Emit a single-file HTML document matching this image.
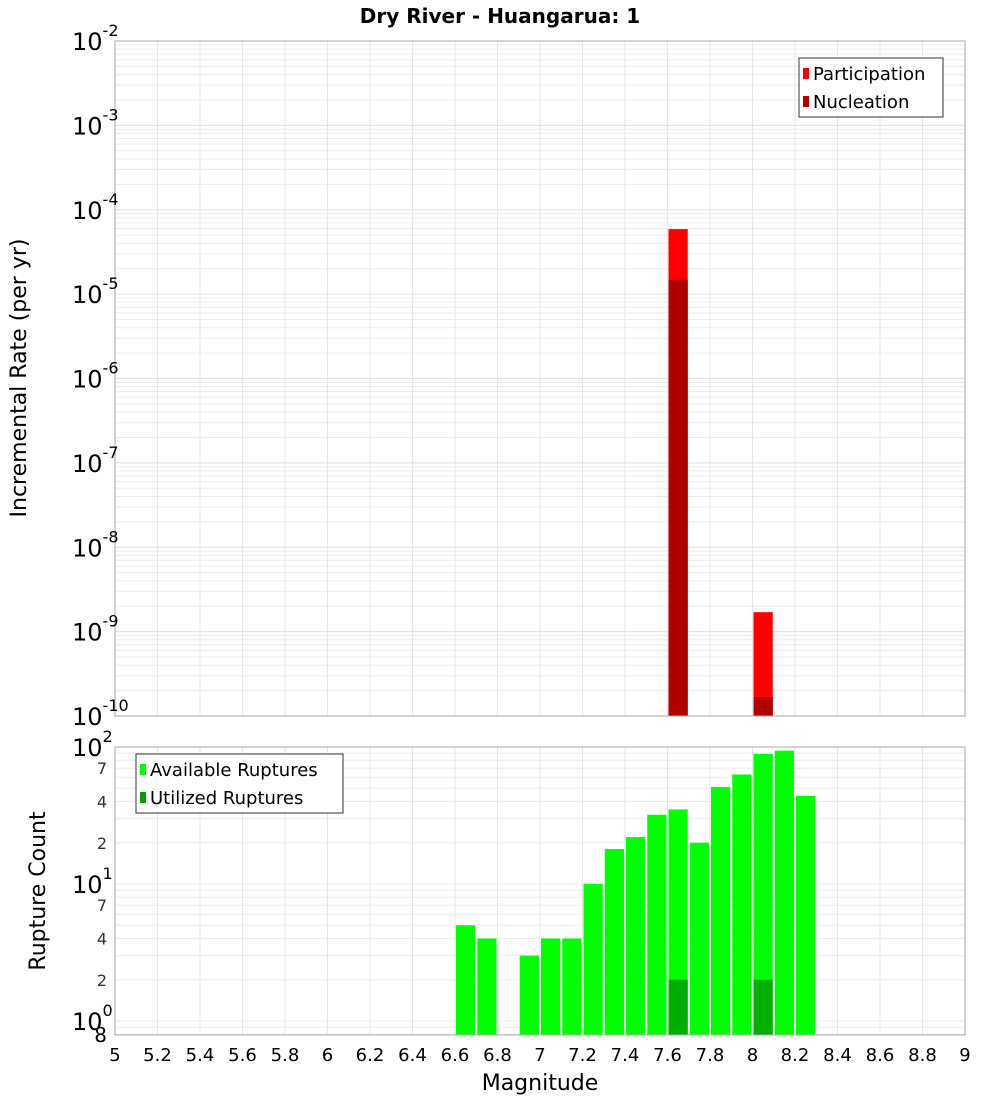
<!DOCTYPE html>
<html><head><meta charset="utf-8"><style>
body{margin:0;background:#fff;width:1000px;height:1100px;overflow:hidden;font-family:"Liberation Sans","DejaVu Sans",sans-serif}
svg text{font-family:"DejaVu Sans","Liberation Sans",sans-serif}
</style></head><body>
<svg id="chart" width="1000" height="1100" xmlns="http://www.w3.org/2000/svg"></svg>
<script>
const mags = [7.65, 8.05];
const participation = [5.9e-5, 1.7e-9];
const nucleation = [1.48e-5, 1.68e-10];
const availMags = [6.65, 6.75, 6.95, 7.05, 7.15, 7.25, 7.35, 7.45, 7.55, 7.65, 7.75, 7.85, 7.95, 8.05, 8.15, 8.25];
const available = [5, 4, 3, 4, 4, 10, 18, 22, 32, 35, 20, 51, 63, 89, 94, 44];
const utilMags = [7.65, 8.05];
const utilized = [2, 2];
const xTicks = [5, 5.2, 5.4, 5.6, 5.8, 6, 6.2, 6.4, 6.6, 6.8, 7, 7.2, 7.4, 7.6, 7.8, 8, 8.2, 8.4, 8.6, 8.8, 9];
const topExps = [-2, -3, -4, -5, -6, -7, -8, -9, -10];
const botMinor = [2, 4, 7, 20, 40, 70];

const NS = "http://www.w3.org/2000/svg";
const svg = document.getElementById('chart');
function el(tag, attrs, parent) {
  const e = document.createElementNS(NS, tag);
  for (const k in attrs) e.setAttribute(k, attrs[k]);
  (parent || svg).appendChild(e);
  return e;
}
const X0 = 115, X1 = 965;
const x = m => X0 + (m - 5) / 4 * (X1 - X0);
const T0 = 41, T1 = 716;
const yTop = v => T0 + (-2 - Math.log10(v)) / 8 * (T1 - T0);
const B0 = 747, B1 = 1035, BDEC = 137;
const yBot = v => B0 + (2 - Math.log10(v)) * BDEC;

// Top plot grid
const gTop = el('g', {});


for (let e = -10; e < -2; e++) for (let k = 1; k < 10; k++) {
  const yy = yTop(k * Math.pow(10, e));
  if (yy < T0 || yy > T1) continue;
  el('line', {x1: X0, x2: X1, y1: yy, y2: yy, stroke: k === 1 ? '#e0e0e0' : '#ececec', 'stroke-width': 1}, gTop);
}
xTicks.forEach(t => el('line', {x1: x(t), x2: x(t), y1: T0, y2: T1, stroke: '#e6e6e6'}, gTop));
// Bottom grid
const gBot = el('g', {});


for (let e = -1; e < 2; e++) for (let k = 1; k < 10; k++) {
  const yy = yBot(k * Math.pow(10, e));
  if (yy < B0 || yy > B1) continue;
  el('line', {x1: X0, x2: X1, y1: yy, y2: yy, stroke: '#ececec'}, gBot);
}
xTicks.forEach(t => el('line', {x1: x(t), x2: x(t), y1: B0, y2: B1, stroke: '#e6e6e6'}, gBot));

// Top bars
mags.forEach((m, i) => {
  const r = el('rect', {x: x(m - 0.05) + 1, width: x(m + 0.05) - x(m - 0.05) - 2, y: yTop(participation[i]), height: T1 - yTop(participation[i]), fill: '#ff0000'});
  
  
  const n = el('rect', {x: x(m - 0.05) + 1, width: x(m + 0.05) - x(m - 0.05) - 2, y: yTop(nucleation[i]), height: T1 - yTop(nucleation[i]), fill: '#b00000'});
  
  
});
// Bottom bars
availMags.forEach((m, i) => {
  const yy = yBot(available[i]);
  const r = el('rect', {x: x(m - 0.05) + 1, width: x(m + 0.05) - x(m - 0.05) - 2, y: yy, height: B1 - yy, fill: '#00ff00'});
  
  
});
utilMags.forEach((m, i) => {
  const yy = yBot(utilized[i]);
  const r = el('rect', {x: x(m - 0.05) + 1, width: x(m + 0.05) - x(m - 0.05) - 2, y: yy, height: B1 - yy, fill: '#00b000'});
  
  
});

// frames
const f1 = el('rect', {x: X0, y: T0, width: X1 - X0, height: T1 - T0, fill: 'none', stroke: '#aaa'});


const f2 = el('rect', {x: X0, y: B0, width: X1 - X0, height: B1 - B0, fill: 'none', stroke: '#aaa'});



// Top y ticks
topExps.forEach(e => {
  const yy = yTop(Math.pow(10, e));
  const t = el('text', {x: 72, y: yy + 9, 'font-size': 24, fill: '#000'});
  
  
  t.textContent = '10';
  const s = el('tspan', {dy: -14, 'font-size': 16}, t);
  s.textContent = String(e);
});
// Bottom y ticks
[[100, '2'], [10, '1'], [1, '0']].forEach(([v, ex]) => {
  const yy = yBot(v);
  const t = el('text', {x: 72, y: yy + 9, 'font-size': 24, fill: '#000'});
  
  
  t.textContent = '10';
  const s = el('tspan', {dy: -14, 'font-size': 16}, t);
  s.textContent = ex;
});
botMinor.forEach(v => {
  const t = el('text', {x: 107, y: yBot(v) + 6, 'font-size': 16, 'text-anchor': 'end', fill: '#333'});
  
  
  t.textContent = String(v).charAt(0);
});
{
  const t = el('text', {x: 107, y: B1 + 7, 'font-size': 20, 'text-anchor': 'end', fill: '#000'});
  
  
  t.textContent = '8';
}
// X ticks
xTicks.forEach(tk => {
  const t = el('text', {x: x(tk), y: 1061, 'font-size': 18, 'text-anchor': 'middle', fill: '#000'});
  
  
  t.textContent = String(tk);
});

// Titles
const title = el('text', {x: 500, y: 23, 'font-size': 20, 'font-weight': 'bold', 'text-anchor': 'middle'});


title.textContent = 'Dry River - Huangarua: 1';
const xt = el('text', {x: 540, y: 1090, 'font-size': 22, 'text-anchor': 'middle'});


xt.textContent = 'Magnitude';
const yt1 = el('text', {x: 0, y: 0, 'font-size': 22, 'text-anchor': 'middle', transform: 'translate(26,378) rotate(-90)'});


yt1.textContent = 'Incremental Rate (per yr)';
const yt2 = el('text', {x: 0, y: 0, 'font-size': 22, 'text-anchor': 'middle', transform: 'translate(45,891) rotate(-90)'});


yt2.textContent = 'Rupture Count';

// Legends
function legend(name, bx, by, w, items) {
  const g = el('g', {});
  
  
  el('rect', {x: bx, y: by, width: w, height: 59, fill: '#fff', stroke: '#333'}, g);
  items.forEach((it, i) => {
    const r = el('rect', {x: bx + 4, y: by + 10 + i * 28, width: 6, height: 11, fill: it[1]}, g);
    
    
    const t = el('text', {x: bx + 14, y: by + 22 + i * 28, 'font-size': 18}, g);
    
    
    t.textContent = it[0];
  });
}
legend('top-legend', 799, 58, 144, [['Participation', '#ff0000'], ['Nucleation', '#b00000']]);
legend('bottom-legend', 136, 754, 207, [['Available Ruptures', '#00ff00'], ['Utilized Ruptures', '#00a000']]);
</script>
</body></html>
